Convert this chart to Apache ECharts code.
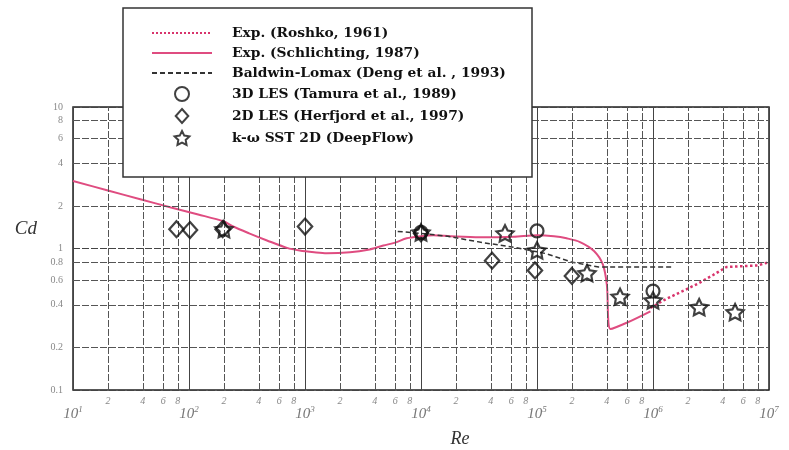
<!DOCTYPE html>
<html><head><meta charset="utf-8">
<script src="https://cdn.jsdelivr.net/npm/echarts@6/dist/echarts.min.js"></script>
<style>html,body{margin:0;padding:0;background:#fff}#c{width:789px;height:450px}</style>
</head><body><div id="c"></div>
<script>
// ---- data ----
const roshkoRe = [9.5e5, 1.3e6, 1.8e6, 2.5e6, 3.3e6, 4.3e6, 6e6, 8e6, 1e7];
const roshkoCd = [0.38, 0.44, 0.50, 0.57, 0.65, 0.74, 0.75, 0.76, 0.80];

const schlRe = [10, 20, 38, 70, 120, 200, 240, 330, 470, 700, 900, 1200, 1540, 2440, 3500, 4730, 6000, 7530, 1e4, 1.28e4, 1.8e4, 3.2e4, 6.3e4, 1e5, 1.4e5, 1.8e5, 2.35e5, 3.1e5, 3.7e5, 4e5, 4.3e5, 6e5, 9.5e5];
const schlCd = [3.0, 2.57, 2.23, 1.95, 1.74, 1.55, 1.43, 1.28, 1.14, 1.01, 0.967, 0.94, 0.925, 0.94, 0.98, 1.05, 1.10, 1.18, 1.22, 1.24, 1.22, 1.20, 1.21, 1.24, 1.22, 1.18, 1.11, 0.96, 0.77, 0.555, 0.27, 0.30, 0.36];

const blRe = [6.3e3, 1e4, 1.7e4, 3.2e4, 6.3e4, 1.2e5, 2e5, 3.4e5, 6e5, 1e6, 1.5e6];
const blCd = [1.32, 1.28, 1.22, 1.11, 1.02, 0.92, 0.80, 0.74, 0.74, 0.74, 0.74];

const les3dRe = [1e4, 1e5, 1e6];
const les3dCd = [1.30, 1.33, 0.50];

const les2dRe = [78, 102, 195, 1000, 1e4, 4.1e4, 9.6e4, 2e5];
const les2dCd = [1.37, 1.35, 1.37, 1.43, 1.28, 0.82, 0.70, 0.64];

const sstRe = [200, 1e4, 5.3e4, 1e5, 2.7e5, 5.2e5, 1e6, 2.5e6, 5.1e6];
const sstCd = [1.37, 1.30, 1.28, 0.97, 0.67, 0.456, 0.43, 0.385, 0.355];

const seriesNames = ['Exp. (Roshko, 1961)', 'Exp. (Schlichting, 1987)', 'Baldwin-Lomax (Deng et al. , 1993)',
  '3D LES (Tamura et al., 1989)', '2D LES (Herfjord et al., 1997)', 'k-\u03c9 SST 2D (DeepFlow)'];

// tick / grid values
const minorMult = [2, 4, 6, 8];
const xDecades = [10, 100, 1e3, 1e4, 1e5, 1e6];
const yDecades = [0.1, 1];
const xAxisName = 'Re';
const yAxisName = 'Cd';

// ---- build ----
const zip = (a, b) => a.map((v, i) => [v, b[i]]);
const serif = "'Liberation Serif', 'DejaVu Serif', serif";

const xMinorLines = [];
xDecades.forEach(d => minorMult.forEach(m => xMinorLines.push({ xAxis: d * m, name: String(m) })));
const yMinorLines = [];
yDecades.forEach(d => minorMult.forEach(m => yMinorLines.push({ yAxis: +(d * m).toPrecision(3), name: d < 1 ? ('0.' + m) : String(m) })));

const starPath = 'path://M0,-10 L2.94,-4.05 L9.51,-3.09 L4.76,1.55 L5.88,8.09 L0,5 L-5.88,8.09 L-4.76,1.55 L-9.51,-3.09 L-2.94,-4.05 Z';
const diamondPath = 'path://M0,-10 L9,0 L0,10 L-9,0 Z';
const hollow = { color: 'rgba(0,0,0,0)', borderColor: '#111', borderWidth: 2.2 };
const gridLineStyle = { color: '#555', width: 1, type: [7, 2] };
const noDot = { color: 'rgba(0,0,0,0)', borderColor: 'rgba(0,0,0,0)', borderWidth: 0 };

const chart = echarts.init(document.getElementById('c'), null, { renderer: 'canvas' });
chart.setOption({
  animation: false,
  backgroundColor: '#fff',
  grid: { left: 73, right: 20, top: 107, bottom: 60, outerBoundsMode: 'none', containLabel: false,
    show: true, borderColor: '#222', borderWidth: 1.5, backgroundColor: 'transparent' },
  xAxis: {
    type: 'log', logBase: 10, min: 10, max: 1e7,
    name: xAxisName, nameLocation: 'middle', nameGap: 40,
    nameTextStyle: { fontFamily: serif, fontStyle: 'italic', fontSize: 18, color: '#333', padding: [0, 0, 0, 78] },
    axisLine: { show: false }, axisTick: { show: false },
    splitLine: { show: true, lineStyle: { color: '#444', width: 1 } },
    axisLabel: {
      margin: 15, color: '#777',
      formatter: v => '{a|10}{b|' + Math.round(Math.log10(v)) + '}',
      rich: {
        a: { fontFamily: serif, fontStyle: 'italic', fontSize: 15, color: '#777', lineHeight: 18 },
        b: { fontFamily: serif, fontStyle: 'italic', fontSize: 9, color: '#777', verticalAlign: 'top', lineHeight: 9 }
      }
    }
  },
  yAxis: {
    type: 'log', logBase: 10, min: 0.1, max: 10,
    name: yAxisName, nameLocation: 'middle', nameGap: 36, nameRotate: 0,
    nameTextStyle: { fontFamily: serif, fontStyle: 'italic', fontSize: 19, color: '#333', verticalAlign: 'bottom', padding: [0, 0, 10, 0] },
    axisLine: { show: false }, axisTick: { show: false },
    splitLine: { show: true, lineStyle: { color: '#444', width: 1, type: [7, 2] } },
    axisLabel: { margin: 10, color: '#888', fontFamily: serif, fontSize: 10, formatter: v => String(+v.toPrecision(3)) }
  },
  legend: {
    data: seriesNames.map((n, i) => i < 3 ? { name: n, itemStyle: noDot } : { name: n }),
    orient: 'vertical', left: 151, top: 26, padding: 0,
    itemWidth: 60, itemHeight: 14, itemGap: 6, selectedMode: false, z: 100,
    textStyle: { fontFamily: "'DejaVu Serif', serif", fontWeight: 'bold', fontSize: 13.8, color: '#111', padding: [0, 0, 0, 15] }
  },
  graphic: [{
    type: 'rect', z: 90, silent: true,
    shape: { x: 123, y: 8, width: 409, height: 169 },
    style: { fill: '#fff', stroke: '#333', lineWidth: 1.5 }
  }],
  series: [
    {
      name: 'gridlines', type: 'line', data: [], z: 1, silent: true,
      markLine: {
        silent: true, symbol: ['none', 'none'], animation: false,
        lineStyle: gridLineStyle,
        label: { show: true, position: 'start', formatter: '{b}', color: '#888', fontFamily: serif, fontStyle: 'italic', fontSize: 10, distance: 6 },
        emphasis: { disabled: true },
        data: xMinorLines.concat(yMinorLines.map(d => Object.assign({}, d, { label: { fontStyle: 'normal', distance: 10 } })))
      }
    },
    { name: seriesNames[0], type: 'line', data: zip(roshkoRe, roshkoCd), symbol: 'none', smooth: false, z: 3,
      lineStyle: { color: '#d8346c', width: 2.5, type: 'dotted' }, itemStyle: { color: '#d8346c' } },
    { name: seriesNames[1], type: 'line', data: zip(schlRe, schlCd), symbol: 'none', smooth: 0.3, z: 3,
      lineStyle: { color: '#df4c80', width: 2 }, itemStyle: { color: '#df4c80' } },
    { name: seriesNames[2], type: 'line', data: zip(blRe, blCd), symbol: 'none', z: 4,
      lineStyle: { color: '#333', width: 1.5, type: [5, 3] }, itemStyle: { color: '#333' } },
    { name: seriesNames[3], type: 'scatter', data: zip(les3dRe, les3dCd), symbol: 'circle', symbolSize: 13, symbolKeepAspect: true, z: 5, itemStyle: hollow },
    { name: seriesNames[4], type: 'scatter', data: zip(les2dRe, les2dCd), symbol: diamondPath, symbolSize: 16, symbolKeepAspect: true, z: 5, itemStyle: hollow },
    { name: seriesNames[5], type: 'scatter', data: zip(sstRe, sstCd), symbol: starPath, symbolSize: 17, symbolKeepAspect: true, z: 5, itemStyle: hollow }
  ]
});
</script></body></html>
